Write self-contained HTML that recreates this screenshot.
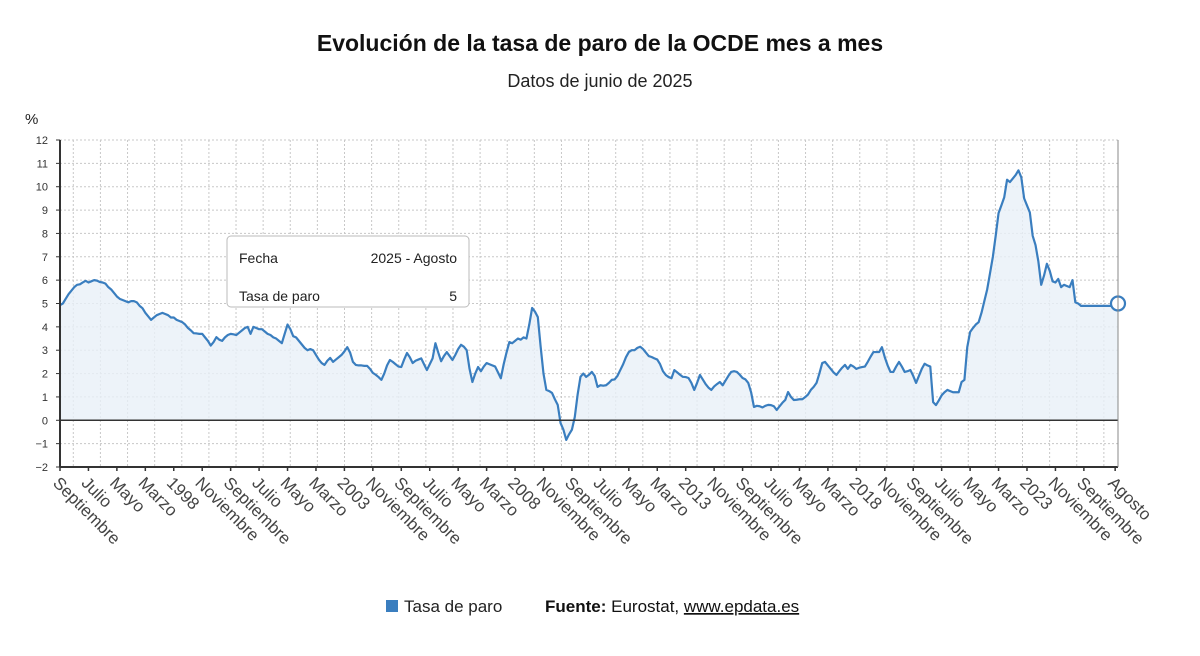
<!DOCTYPE html>
<html><head><meta charset="utf-8">
<style>
body{margin:0;background:#fff;width:1200px;height:651px;overflow:hidden;font-family:"Liberation Sans",sans-serif;}
</style></head>
<body>
<svg id="chart" width="1200" height="651" xmlns="http://www.w3.org/2000/svg" font-family="Liberation Sans, sans-serif">
<text x="600" y="51" text-anchor="middle" font-size="23" font-weight="bold" fill="#111">Evolución de la tasa de paro de la OCDE mes a mes</text>
<text x="600" y="87" text-anchor="middle" font-size="18" fill="#222">Datos de junio de 2025</text>
<text x="25" y="124" font-size="15" fill="#222">%</text>
<g id="grid"></g>
<g id="plot"></g>
<g id="axes"></g>
<g>
<rect x="227" y="236" width="242" height="71" rx="4" fill="#fff" stroke="#bbb" stroke-width="1"/>
<text x="239" y="263" font-size="14" fill="#222">Fecha</text>
<text x="457" y="263" font-size="14" fill="#222" text-anchor="end">2025 - Agosto</text>
<text x="239" y="301" font-size="14" fill="#222">Tasa de paro</text>
<text x="457" y="301" font-size="14" fill="#222" text-anchor="end">5</text>
</g>
<g>
<rect x="386" y="600" width="12" height="12" fill="#3a7ebf"/>
<text x="404" y="612" font-size="17" fill="#222">Tasa de paro</text>
<text x="545" y="612" font-size="17" fill="#111"><tspan font-weight="bold">Fuente:</tspan> Eurostat, <tspan text-decoration="underline">www.epdata.es</tspan></text>
</g>
</svg>
<script>
const yTicks=[-2,-1,0,1,2,3,4,5,6,7,8,9,10,11,12];
const xLabels=["Septiembre","Julio","Mayo","Marzo","1998","Noviembre","Septiembre","Julio","Mayo","Marzo","2003","Noviembre","Septiembre","Julio","Mayo","Marzo","2008","Noviembre","Septiembre","Julio","Mayo","Marzo","2013","Noviembre","Septiembre","Julio","Mayo","Marzo","2018","Noviembre","Septiembre","Julio","Mayo","Marzo","2023","Noviembre","Septiembre","Agosto"];
const xLabelMonths=[0,10,20,30,40,50,60,70,80,90,100,110,120,130,140,150,160,170,180,190,200,210,220,230,240,250,260,270,280,290,300,310,320,330,340,350,360,371];
const values=[4.93,5.0,5.2,5.4,5.55,5.7,5.8,5.82,5.9,5.97,
5.9,5.95,6.0,5.98,5.92,5.9,5.85,5.7,5.6,5.45,
5.3,5.2,5.15,5.1,5.05,5.1,5.1,5.05,4.9,4.8,
4.6,4.45,4.3,4.4,4.5,4.55,4.6,4.55,4.5,4.4,
4.4,4.3,4.25,4.2,4.1,3.95,3.85,3.73,3.72,3.7,
3.7,3.55,3.4,3.2,3.35,3.56,3.45,3.4,3.55,3.65,
3.7,3.68,3.65,3.75,3.85,3.95,4.0,3.7,4.0,3.95,
3.9,3.9,3.8,3.7,3.65,3.55,3.5,3.4,3.3,3.7,
4.1,3.9,3.6,3.55,3.4,3.25,3.1,3.0,3.05,3.0,
2.8,2.6,2.45,2.37,2.55,2.67,2.5,2.6,2.7,2.8,
2.95,3.13,2.9,2.5,2.37,2.35,2.35,2.33,2.33,2.2,
2.03,1.95,1.85,1.73,2.0,2.35,2.58,2.5,2.4,2.3,
2.28,2.6,2.88,2.7,2.45,2.55,2.6,2.65,2.4,2.15,
2.4,2.65,3.3,2.9,2.53,2.75,2.92,2.75,2.58,2.8,
3.05,3.23,3.15,3.0,2.2,1.64,2.0,2.28,2.1,2.3,
2.45,2.4,2.35,2.3,2.05,1.8,2.4,2.9,3.35,3.3,
3.4,3.5,3.45,3.55,3.5,4.1,4.81,4.65,4.42,3.15,
2.0,1.3,1.25,1.17,0.9,0.66,-0.12,-0.4,-0.84,-0.6,
-0.4,0.14,1.1,1.86,2.0,1.86,1.95,2.07,1.9,1.43,
1.5,1.48,1.5,1.6,1.73,1.75,1.9,2.15,2.4,2.7,
2.92,3.0,3.0,3.1,3.15,3.05,2.9,2.75,2.71,2.65,
2.6,2.4,2.1,1.94,1.85,1.8,2.15,2.05,1.95,1.86,
1.85,1.81,1.6,1.3,1.6,1.94,1.75,1.55,1.4,1.3,
1.45,1.55,1.64,1.5,1.7,1.9,2.07,2.1,2.07,1.95,
1.81,1.75,1.6,1.2,0.57,0.62,0.6,0.55,0.62,0.66,
0.65,0.6,0.44,0.6,0.75,0.87,1.21,1.0,0.87,0.88,
0.9,0.9,0.99,1.1,1.3,1.43,1.6,2.0,2.45,2.5,
2.35,2.2,2.05,1.94,2.1,2.25,2.37,2.2,2.37,2.3,
2.2,2.25,2.28,2.3,2.5,2.72,2.92,2.92,2.92,3.13,
2.7,2.35,2.07,2.07,2.3,2.5,2.3,2.07,2.1,2.15,
1.9,1.6,1.9,2.2,2.42,2.35,2.3,0.78,0.65,0.85,
1.07,1.2,1.3,1.25,1.2,1.2,1.2,1.64,1.73,3.13,
3.78,3.95,4.1,4.2,4.6,5.1,5.6,6.3,7.0,7.9,
8.87,9.2,9.55,10.3,10.2,10.35,10.5,10.7,10.4,9.5,
9.2,8.9,7.9,7.5,6.8,5.8,6.2,6.7,6.4,5.95,
5.9,6.05,5.7,5.8,5.75,5.7,6.0,5.05,5.0,4.9,
4.9,4.9,4.9,4.9,4.9,4.9,4.9,4.9,4.9,4.9,4.9,4.9,5.0];

const NS="http://www.w3.org/2000/svg";
const X0=60,X1=1118,YTOP=140,YBOT=467,VMIN=-2,VMAX=12;
const xScale=i=>X0+i*(X1-X0)/(values.length-1);
const yScale=v=>YBOT-(v-VMIN)*(YBOT-YTOP)/(VMAX-VMIN);
function mk(tag,attrs,parent){const e=document.createElementNS(NS,tag);for(const k in attrs)e.setAttribute(k,attrs[k]);parent.appendChild(e);return e;}
const grid=document.getElementById('grid'),plot=document.getElementById('plot'),axes=document.getElementById('axes');

for(const t of yTicks){
  const y=yScale(t);
  const gl=mk('line',{x1:X0,x2:X1,y1:y,y2:y,stroke:'#c8c8c8','stroke-dasharray':'2,2','stroke-width':1},grid);
  
  
  const lab=mk('text',{x:48,y:y+4,'text-anchor':'end','font-size':11,fill:'#333'},axes);
  lab.textContent=t<0?'\u2212'+Math.abs(t):String(t);
  
  
  mk('line',{x1:X0-4,x2:X0,y1:y,y2:y,stroke:'#333'},axes);
}
for(let gx=73.3;gx<X1;gx+=27.12){
  const vl=mk('line',{x1:gx,x2:gx,y1:YTOP,y2:YBOT,stroke:'#c8c8c8','stroke-dasharray':'2,2','stroke-width':1},grid);
  
  
}
const y0=yScale(0);
let d='',a='M'+xScale(0)+','+y0;
values.forEach((v,i)=>{const p=xScale(i).toFixed(2)+','+yScale(v).toFixed(2);d+=(i?'L':'M')+p;a+='L'+p;});
a+='L'+xScale(values.length-1)+','+y0+'Z';
const area=mk('path',{d:a,fill:'#e9f0f7','fill-opacity':0.8},plot);


const line=mk('path',{d:d,fill:'none',stroke:'#3a7ebf','stroke-width':2.2,'stroke-linejoin':'round'},plot);


const zl=mk('line',{x1:X0,x2:X1,y1:y0,y2:y0,stroke:'#333','stroke-width':1.5},axes);


mk('line',{x1:X0,x2:X0,y1:YTOP,y2:YBOT,stroke:'#333','stroke-width':2},axes);
mk('line',{x1:X0,x2:X1,y1:YBOT,y2:YBOT,stroke:'#333','stroke-width':2},axes);
mk('line',{x1:X1,x2:X1,y1:YTOP,y2:YBOT,stroke:'#888','stroke-width':1},axes);
xLabels.forEach((l,k)=>{
  const x=xScale(xLabelMonths[k]);
  mk('line',{x1:x,x2:x,y1:YBOT,y2:YBOT+4,stroke:'#333','stroke-width':1.5},axes);
  const t=mk('text',{x:x-8,y:YBOT+17,'font-size':17,fill:'#444',transform:'rotate(45 '+(x-8)+' '+(YBOT+17)+')'},axes);
  t.textContent=l;
  
  
});
const last=values.length-1;
const m=mk('circle',{cx:xScale(last),cy:yScale(values[last]),r:7,fill:'#fff',stroke:'#3a7ebf','stroke-width':2.2},plot);


</script>
</body></html>
